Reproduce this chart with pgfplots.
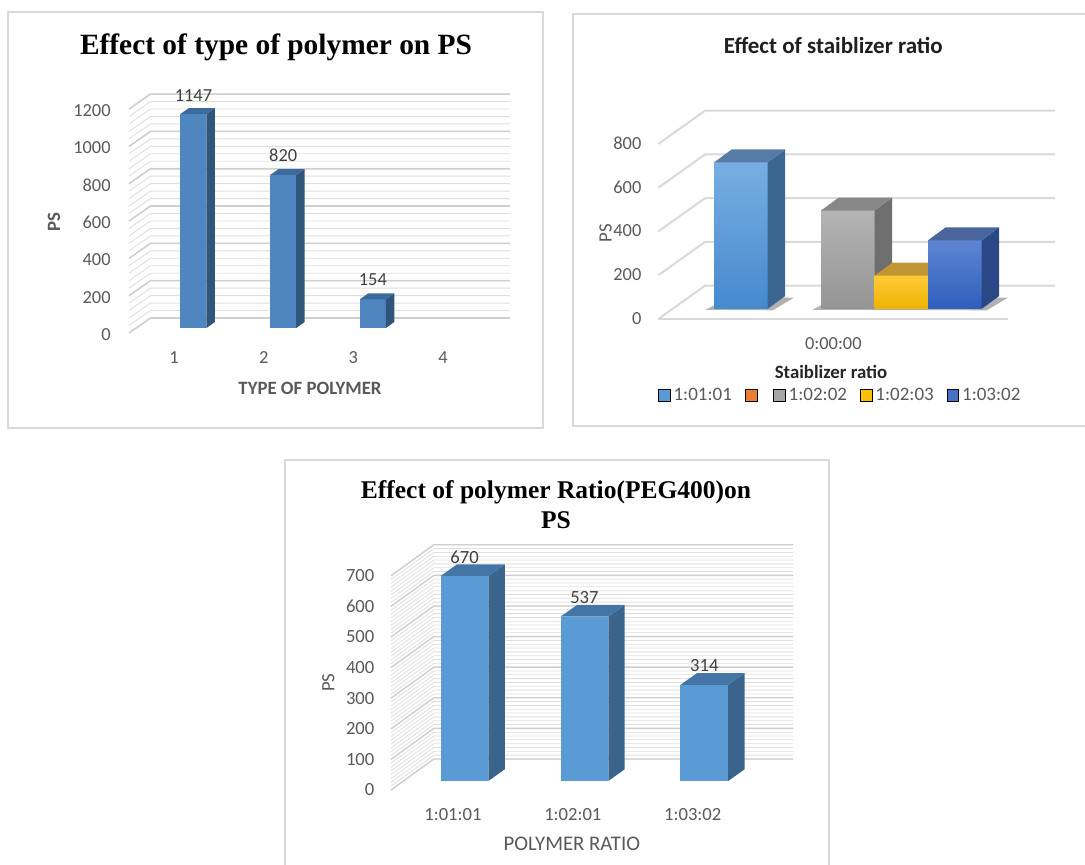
\documentclass[border=0pt]{standalone}
\usepackage{pgfplots}
\pgfplotsset{compat=1.18}
\usepackage{fontspec}
\setmainfont{Carlito}
\newfontfamily\timesfont{Liberation Serif}

\definecolor{tickgray}{HTML}{595959}
\definecolor{labgray}{HTML}{404040}
\definecolor{framegray}{HTML}{D9D9D9}
\definecolor{gridmaj}{HTML}{CFCFCF}
\definecolor{gridmin}{HTML}{DEDEDE}
\definecolor{gridtwo}{HTML}{D9D9D9}
% panel 1 bars
\definecolor{p1front}{HTML}{4F86BF}
\definecolor{p1side}{HTML}{2F5679}
\definecolor{p1top}{HTML}{3B6B9C}
% panel 3 bars
\definecolor{p3front}{HTML}{5B9BD5}
\definecolor{p3side}{HTML}{3A648C}
\definecolor{p3top}{HTML}{4375A6}
% panel 2 series
\definecolor{bAt}{HTML}{78AEE2}\definecolor{bAb}{HTML}{4689CE}
\definecolor{bAs}{HTML}{3A6690}\definecolor{bAc}{HTML}{567CA6}
\definecolor{bCt}{HTML}{B4B4B4}\definecolor{bCb}{HTML}{959595}
\definecolor{bCs}{HTML}{6E6E6E}\definecolor{bCc}{HTML}{878787}
\definecolor{bDt}{HTML}{FFCA38}\definecolor{bDb}{HTML}{EDB300}
\definecolor{bDs}{HTML}{9C7A1E}\definecolor{bDc}{HTML}{C29635}
\definecolor{bEt}{HTML}{5F85D3}\definecolor{bEb}{HTML}{2F5EBE}
\definecolor{bEs}{HTML}{2B4886}\definecolor{bEc}{HTML}{4A659C}
\definecolor{lgA}{HTML}{5B9BD5}
\definecolor{lgB}{HTML}{ED7D31}
\definecolor{lgC}{HTML}{A5A5A5}
\definecolor{lgD}{HTML}{FFC000}
\definecolor{lgE}{HTML}{4472C4}

% a box-shaped bar: left x, right x, value, depth dx, depth dy,
% front / side / top face options
\newcommand\barbox[8]{%
  \pgfmathsetmacro\bxl{#1+#4}%
  \pgfmathsetmacro\bxr{#2+#4}%
  \pgfmathsetmacro\bvt{#3+#5}%
  \addplot[draw=none,forget plot,#6] coordinates {(#1,0) (#2,0) (#2,#3) (#1,#3)} --cycle;
  \addplot[draw=none,forget plot,#7] coordinates {(#2,0) (\bxr,#5) (\bxr,\bvt) (#2,#3)} --cycle;
  \addplot[draw=none,forget plot,#8] coordinates {(#1,#3) (#2,#3) (\bxr,\bvt) (\bxl,\bvt)} --cycle;
}
% soft floor shadow under a bar
\newcommand\barshadow[4]{%
  \pgfmathsetmacro\sa{#1-0.16}%
  \pgfmathsetmacro\sb{#2+0.1}%
  \pgfmathsetmacro\sc{#2+#3+0.16}%
  \pgfmathsetmacro\sd{#1+#3}%
  \pgfmathsetmacro\se{#4-8}%
  \addplot[draw=none,forget plot,fill=black,fill opacity=0.3] coordinates {(\sa,-4) (\sb,-6) (\sc,\se) (\sd,#4)} --cycle;
}

\pgfplotsset{
  fakebase/.style={
    clip=false,
    axis line style={draw=none},
    major tick length=0pt,
    tick style={draw=none},
    ticklabel style={inner sep=0pt, text=tickgray},
    /pgf/number format/assume math mode=true,
    /pgf/number format/1000 sep={},
    xticklabel style={anchor=center},
    yticklabel style={anchor=east},
  },
}

\begin{document}
\begin{tikzpicture}
\useasboundingbox (0pt,0pt) rectangle (542.5pt,432pt);

% panel frames
\draw[framegray, line width=0.6pt] (4pt,218pt) rectangle (271.5pt,426pt);
\draw[framegray, line width=0.6pt] (286.5pt,219pt) rectangle (546pt,425pt);
\draw[framegray, line width=0.6pt] (142.5pt,-3pt) rectangle (414.5pt,202pt);

% ---------------- Effect of type of polymer on PS ----------------
\begin{axis}[fakebase,
  x=44.85pt, y=0.0933pt,
  xmin=0.2, xmax=4.6, ymin=-60, ymax=1300,
  at={(60.85pt,262.4pt)}, anchor=south west,
  xtick={1,2,3,4}, ytick={0,200,...,1200},
  ticklabel style={font=\fontsize{9.2}{10}\selectfont},
  yticklabel style={xshift=-5.35pt, yshift=-3.25pt},
  xticklabel style={xshift=-9.75pt, yshift=-9.4pt},
]
\pgfplotsinvokeforeach{0,40,...,1200}{
  \draw[gridmin, line width=0.45pt] (axis cs:0.281,{#1-26.8}) -- (axis cs:0.521,{#1+53.6}) -- (axis cs:4.528,{#1+53.6});
}
\pgfplotsinvokeforeach{0,200,...,1200}{
  \draw[gridmaj, line width=0.8pt] (axis cs:0.281,{#1-26.8}) -- (axis cs:0.521,{#1+53.6}) -- (axis cs:4.528,{#1+53.6});
}
\barbox{0.855}{1.145}{1147}{0.094}{32}{fill=p1front}{fill=p1side}{fill=p1top}
\barbox{1.855}{2.145}{820}{0.094}{32}{fill=p1front}{fill=p1side}{fill=p1top}
\barbox{2.855}{3.145}{154}{0.094}{32}{fill=p1front}{fill=p1side}{fill=p1top}
\node[font=\fontsize{9.2}{10}\selectfont, text=labgray, yshift=9.4pt] at (axis cs:1,1147) {1147};
\node[font=\fontsize{9.2}{10}\selectfont, text=labgray, yshift=10pt] at (axis cs:2,820) {820};
\node[font=\fontsize{9.2}{10}\selectfont, text=labgray, yshift=10pt] at (axis cs:3,154) {154};
\end{axis}

\node[font=\timesfont\bfseries\fontsize{14.7}{17}\selectfont] at (138pt,408.5pt) {Effect of type of polymer on PS};
\node[font=\bfseries\fontsize{9.4}{11}\selectfont, text=tickgray] at (155pt,238pt) {TYPE OF POLYMER};
\node[font=\bfseries\fontsize{9.4}{11}\selectfont, text=tickgray, rotate=90] at (27pt,321pt) {PS};

% ---------------- Effect of staiblizer ratio ----------------
\begin{axis}[fakebase,
  x=26.75pt, y=0.109375pt,
  xmin=-0.6, xmax=7, ymin=-60, ymax=950,
  at={(327.575pt,270.95pt)}, anchor=south west,
  xtick={2.73}, xticklabels={0:00:00}, ytick={0,200,...,800},
  ticklabel style={font=\fontsize{9.2}{10}\selectfont},
  yticklabel style={xshift=-6.7pt, yshift=-4.65pt},
  xticklabel style={yshift=-10.6pt},
  legend image code/.code={\fill[#1] (0pt,-2.9pt) rectangle (5.8pt,2.9pt);},
  legend style={at={(0.4566,-0.333)}, anchor=center, draw=none, fill=none,
    legend columns=5, font=\fontsize{9.5}{11}\selectfont, text=tickgray,
    /tikz/every even column/.append style={column sep=5pt},
    nodes={inner sep=1.5pt}},
  legend cell align=left,
]
\pgfplotsinvokeforeach{0,200,...,800}{
  \draw[gridtwo, line width=1pt] (axis cs:-0.541,{#1-45.7}) -- (axis cs:0.332,{#1+106.5}) -- (axis cs:6.875,{#1+106.5});
}
\draw[gridtwo, line width=1pt] (axis cs:-0.541,-45.7) -- (axis cs:5.996,-45.7);
\barshadow{0.5}{1.5}{0.331}{59.4}
\barshadow{2.5}{5.5}{0.331}{59.4}
\barbox{0.5}{1.5}{670}{0.331}{59.4}{top color=bAt,bottom color=bAb}{fill=bAs}{fill=bAc}
\barbox{2.5}{3.5}{450}{0.331}{59.4}{top color=bCt,bottom color=bCb}{fill=bCs}{fill=bCc}
\barbox{3.5}{4.5}{152}{0.331}{59.4}{top color=bDt,bottom color=bDb}{fill=bDs}{fill=bDc}
\barbox{4.5}{5.5}{314}{0.331}{59.4}{top color=bEt,bottom color=bEb}{fill=bEs}{fill=bEc}
\addlegendimage{fill=lgA}\addlegendentry{1:01:01}
\addlegendimage{fill=lgB}\addlegendentry{}
\addlegendimage{fill=lgC}\addlegendentry{1:02:02}
\addlegendimage{fill=lgD}\addlegendentry{1:02:03}
\addlegendimage{fill=lgE}\addlegendentry{1:03:02}
\end{axis}

\node[font=\bfseries\fontsize{11.5}{13}\selectfont, text=black!88] at (416.65pt,409.5pt) {Effect of staiblizer ratio};
\node[font=\bfseries\fontsize{9.4}{11}\selectfont, text=black!85] at (415.5pt,245.85pt) {Staiblizer ratio};
\node[font=\fontsize{9.4}{11}\selectfont, text=tickgray, rotate=90] at (302.85pt,315.35pt) {PS};

% ---------------- Effect of polymer Ratio(PEG400) on PS ----------------
\begin{axis}[fakebase,
  x=59.95pt, y=0.153pt,
  xmin=0.3, xmax=3.9, ymin=-40, ymax=780,
  at={(190.3pt,35.4pt)}, anchor=south west,
  xtick={1,2,3}, xticklabels={1:01:01,1:02:01,1:03:02}, ytick={0,100,...,700},
  ticklabel style={font=\fontsize{9.3}{10}\selectfont},
  yticklabel style={xshift=-2.95pt, yshift=-4.5pt},
  xticklabel style={xshift=-5.8pt, yshift=-10.9pt},
]
\pgfplotsinvokeforeach{0,12.5,...,700}{
  \draw[gridmin, line width=0.4pt] (axis cs:0.387,{#1-29.4}) -- (axis cs:0.744,{#1+71.9}) -- (axis cs:3.741,{#1+71.9});
}
\pgfplotsinvokeforeach{0,100,...,700}{
  \draw[gridmaj, line width=0.7pt] (axis cs:0.387,{#1-29.4}) -- (axis cs:0.744,{#1+71.9}) -- (axis cs:3.741,{#1+71.9});
}
\barbox{0.801}{1.199}{670}{0.137}{38.2}{fill=p3front}{fill=p3side}{fill=p3top}
\barbox{1.801}{2.199}{537}{0.137}{38.2}{fill=p3front}{fill=p3side}{fill=p3top}
\barbox{2.801}{3.199}{314}{0.137}{38.2}{fill=p3front}{fill=p3side}{fill=p3top}
\node[font=\fontsize{9.3}{10}\selectfont, text=labgray, yshift=9.5pt] at (axis cs:1,670) {670};
\node[font=\fontsize{9.3}{10}\selectfont, text=labgray, yshift=9.5pt] at (axis cs:2,537) {537};
\node[font=\fontsize{9.3}{10}\selectfont, text=labgray, yshift=9.5pt] at (axis cs:3,314) {314};
\end{axis}

\node[font=\timesfont\bfseries\fontsize{12.75}{15}\selectfont, align=center] at (278pt,179.5pt) {Effect of polymer Ratio(PEG400)on\\PS};
\node[font=\fontsize{10.4}{12}\selectfont, text=tickgray] at (285.9pt,9.85pt) {POLYMER RATIO};
\node[font=\fontsize{9.4}{11}\selectfont, text=tickgray, rotate=90] at (164.2pt,90.65pt) {PS};
\end{tikzpicture}
\end{document}
